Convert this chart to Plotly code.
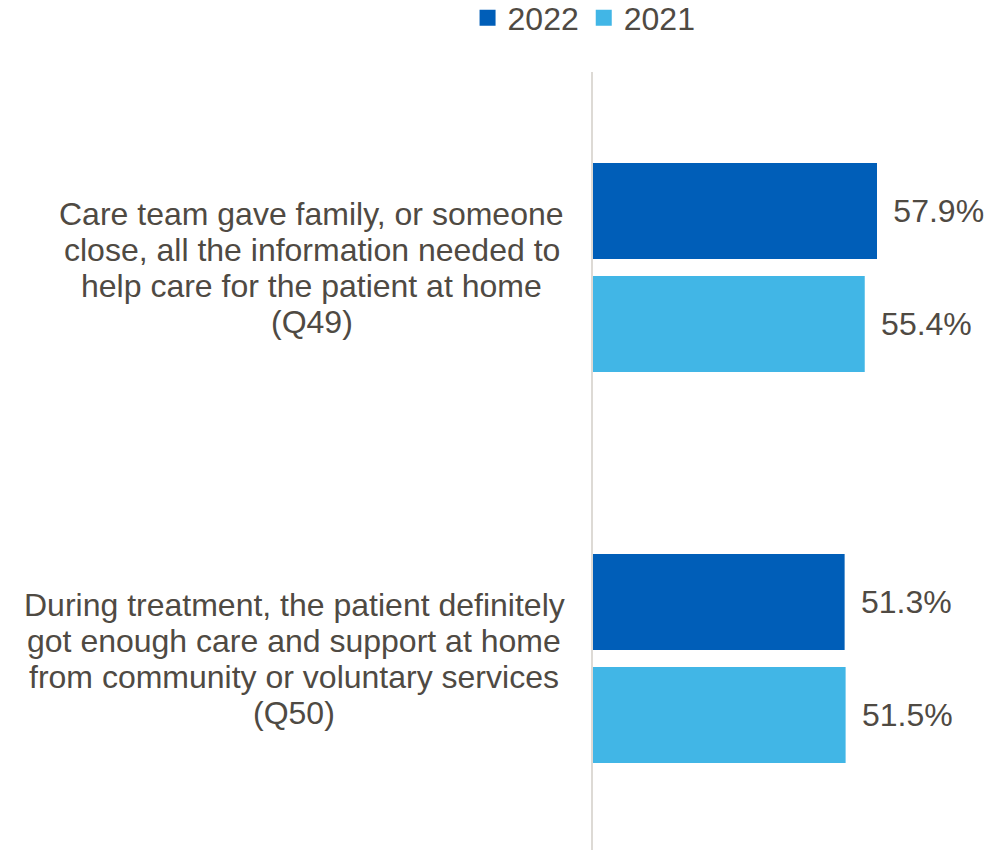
import plotly.graph_objects as go

categories = ["Q49", "Q50"]
category_lines = {
    "Q49": ["Care team gave family, or someone",
            "close, all the information needed to",
            "help care for the patient at home",
            "(Q49)"],
    "Q50": ["During treatment, the patient definitely",
            "got enough care and support at home",
            "from community or voluntary services",
            "(Q50)"],
}
series_names = ["2022", "2021"]
values_2022 = [57.9, 51.3]
values_2021 = [55.4, 51.5]

# style / layout constants
FONT = "Liberation Sans, Arial, sans-serif"
TXT = "#4F4A43"
COLORS = {"2022": "#005EB8", "2021": "#41B6E6"}
FS = 32
LINE_H = 36
LABEL_CENTER_SHIFT = {"Q49": -281.5, "Q50": -299}

W, H = 1007, 850
ML, MT = 593, 72
PX_PER_UNIT = 4.905
plot_w = W - ML
x_max = plot_w / PX_PER_UNIT
plot_h = H - MT
cat_px = 391
y_span = plot_h / cat_px

fig = go.Figure()
for name, vals in zip(series_names, [values_2022, values_2021]):
    fig.add_trace(go.Bar(
        name=name, y=categories, x=vals, orientation="h",
        marker=dict(color=COLORS[name], line=dict(width=0)),
        text=[f"{v:.1f}%" for v in vals],
        texttemplate="\u2004\u200a%{text}",
        textposition="outside", constraintext="none", cliponaxis=False,
        textfont=dict(family=FONT, size=FS, color=TXT),
        hoverinfo="skip", showlegend=False,
    ))
# legend-only entries with larger square swatches
for name in series_names:
    fig.add_trace(go.Scatter(
        name=name, x=[None], y=[None], mode="markers",
        marker=dict(symbol="square", size=16, color=COLORS[name]),
        hoverinfo="skip", showlegend=True,
    ))

annotations = []
for cat in categories:
    lines = category_lines[cat]
    n = len(lines)
    for i, line in enumerate(lines):
        annotations.append(dict(
            xref="paper", x=0, xshift=LABEL_CENTER_SHIFT[cat], xanchor="center",
            yref="y", y=cat, yshift=-(i - (n - 1) / 2) * LINE_H, yanchor="middle",
            text=line, showarrow=False,
            font=dict(family=FONT, size=FS, color=TXT),
        ))

fig.update_layout(
    width=W, height=H,
    margin=dict(l=ML, r=0, t=MT, b=0, pad=0),
    paper_bgcolor="white", plot_bgcolor="white",
    barmode="group", bargap=0.422, bargroupgap=0.1504,
    showlegend=True,
    legend=dict(orientation="h", xref="container", yref="container",
                x=0.58, xanchor="center", y=0.979, yanchor="middle",
                font=dict(family=FONT, size=FS, color=TXT),
                traceorder="normal", itemwidth=30),
    xaxis=dict(range=[0, x_max], visible=False, fixedrange=True),
    yaxis=dict(range=[-0.5 + y_span, -0.5], showticklabels=False,
               showline=True, linecolor="#DDDAD5", linewidth=1.5,
               showgrid=False, zeroline=False, ticks=""),
    annotations=annotations,
    font=dict(family=FONT, color=TXT),
)

fig.write_html("out.html")
